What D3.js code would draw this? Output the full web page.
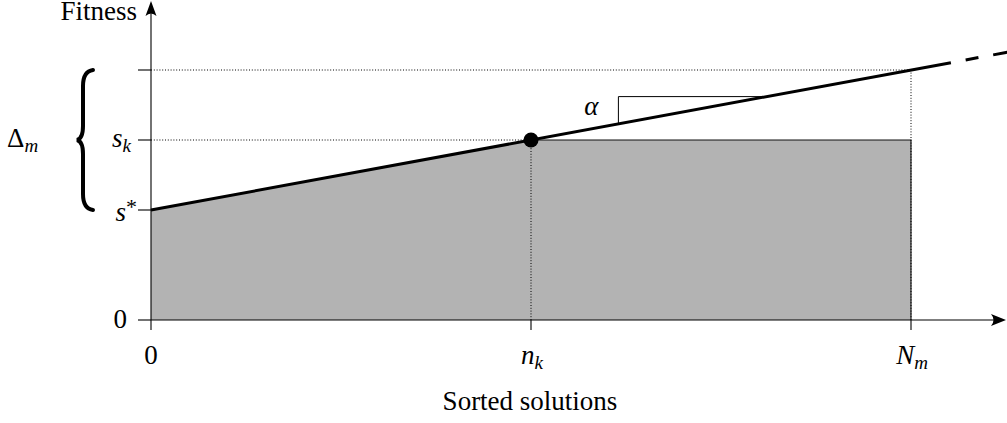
<!DOCTYPE html>
<html>
<head>
<meta charset="utf-8">
<script src="https://cdn.jsdelivr.net/npm/d3@7"></script>
<style>
  html, body { margin: 0; padding: 0; background: #fff; }
  svg { display: block; }
</style>
</head>
<body>
<svg id="chart" width="1007" height="423"></svg>
<script>
// Sorted solutions on the x axis: 0, n_k, N_m
const solutionTicks = [0, 1, 2];
const solutionTickLabels = [["0", ""], ["n", "k"], ["N", "m"]];
// Fitness levels on the y axis: 0, s*, s_k, and the level reached at N_m
const fitnessTicks = [0, 1.1, 1.8, 2.5];
const fitnessTickLabels = ["0", "s*", "s_k", ""];
// Fitness line s* + slope * x
const sStar = 1.1;
const sK = 1.8;
const slope = 0.7;
const solidLineX = [0, 2.105];
const dashedLineX = [2.105, 2.27];
// Slope marker triangle (x extent)
const slopeMarkX = [1.23, 1.62];

const FONT = '"Liberation Serif"';
const FS = 27, SUB = 19;
const svg = d3.select("#chart");
const label = () => svg.append("text").style("font-family", FONT).attr("font-size", FS).attr("fill", "#000");
const x = d3.scaleLinear().domain([0, 2]).range([151, 911]);
const y = d3.scaleLinear().domain([0, 2.5]).range([320, 70]);
const fit = v => sStar + slope * v;
const nk = solutionTicks[1], Nm = solutionTicks[2];
const sTop = fitnessTicks[3];
const line = d3.line().x(d => x(d[0])).y(d => y(d[1]));

// Shaded area: under the line up to n_k, then the rectangle up to N_m
const area = [[0, 0], [0, sStar], [nk, sK], [Nm, sK], [Nm, 0]];
svg.append("path").attr("d", line(area) + "Z").attr("fill", "#b3b3b3");
svg.append("path").attr("d", line([[nk, sK], [Nm, sK], [Nm, 0]]))
  .attr("fill", "none").attr("stroke", "#111").attr("stroke-width", 1.1);

// Dotted guides
const dotted = [
  [[0, sK], [nk, sK]],
  [[0, sTop], [Nm, sTop]],
  [[nk, 0], [nk, sK]],
  [[Nm, 0], [Nm, sTop]]
];
svg.selectAll(".guide").data(dotted).join("line")
  .attr("class", "guide")
  .attr("x1", d => x(d[0][0])).attr("y1", d => y(d[0][1]))
  .attr("x2", d => x(d[1][0])).attr("y2", d => y(d[1][1]))
  .attr("stroke", "#000").attr("stroke-width", 1)
  .attr("stroke-dasharray", "1,1.8");

// Axes
svg.append("line").attr("x1", x(0)).attr("y1", y(0)).attr("x2", 1000).attr("y2", y(0))
  .attr("stroke", "#000").attr("stroke-width", 1.1);
svg.append("line").attr("x1", x(0)).attr("y1", y(0)).attr("x2", x(0)).attr("y2", 8)
  .attr("stroke", "#000").attr("stroke-width", 1.1);
// Arrow heads
const ax = x(0), ay = y(0);
svg.append("path")
  .attr("d", `M${ax},1 L${ax + 5.5},16 Q${ax},11 ${ax - 5.5},16 Z`).attr("fill", "#000");
svg.append("path")
  .attr("d", `M1006,${ay} L991,${ay - 6} Q996,${ay} 991,${ay + 6} Z`).attr("fill", "#000");

// Ticks
svg.selectAll(".ytick").data(fitnessTicks).join("line")
  .attr("class", "ytick")
  .attr("x1", x(0) - 13).attr("x2", x(0))
  .attr("y1", d => y(d)).attr("y2", d => y(d))
  .attr("stroke", "#000").attr("stroke-width", 1.1);
svg.selectAll(".xtick").data(solutionTicks).join("line")
  .attr("class", "xtick")
  .attr("x1", d => x(d)).attr("x2", d => x(d))
  .attr("y1", y(0)).attr("y2", y(0) + 10)
  .attr("stroke", "#000").attr("stroke-width", 1.1);

// Fitness line
svg.append("line")
  .attr("x1", x(solidLineX[0])).attr("y1", y(fit(solidLineX[0])))
  .attr("x2", x(solidLineX[1])).attr("y2", y(fit(solidLineX[1])))
  .attr("stroke", "#000").attr("stroke-width", 3);
svg.append("line")
  .attr("x1", x(dashedLineX[0])).attr("y1", y(fit(dashedLineX[0])))
  .attr("x2", x(dashedLineX[1])).attr("y2", y(fit(dashedLineX[1])))
  .attr("stroke", "#000").attr("stroke-width", 3)
  .attr("stroke-dasharray", "0,15,13,15,13");

// Slope marker
const tY = y(fit(slopeMarkX[1]));
svg.append("path")
  .attr("d", `M${x(slopeMarkX[0])},${y(fit(slopeMarkX[0]))} L${x(slopeMarkX[0])},${tY} L${x(slopeMarkX[1])},${tY}`)
  .attr("fill", "none").attr("stroke", "#000").attr("stroke-width", 1);
label().attr("x", x(slopeMarkX[0]) - 27).attr("y", 115)
  .attr("text-anchor", "middle").attr("font-style", "italic").text("α");

// Point at (n_k, s_k)
svg.append("circle").attr("cx", x(nk)).attr("cy", y(sK)).attr("r", 7.5).attr("fill", "#000");

// Y tick labels
fitnessTicks.forEach((v, i) => {
  const lab = fitnessTickLabels[i];
  if (!lab) return;
  const t = label().attr("text-anchor", "end");
  if (lab === "0") {
    t.attr("x", x(0) - 24).attr("y", y(v) + 8).text("0");
  } else if (lab === "s*") {
    t.attr("x", x(0) - 14).attr("y", y(v) + 11);
    t.append("tspan").attr("font-style", "italic").text("s");
    t.append("tspan").attr("font-size", 22).attr("dy", -7).text("*");
  } else {
    t.attr("x", x(0) - 20).attr("y", y(v) + 7);
    t.append("tspan").attr("font-style", "italic").text("s");
    t.append("tspan").attr("font-style", "italic").attr("font-size", SUB).attr("dy", 5).text("k");
  }
});

// X tick labels
solutionTicks.forEach((v, i) => {
  const [main, sub] = solutionTickLabels[i];
  const t = label().attr("x", x(v) + (sub ? 1 : 0)).attr("y", 364).attr("text-anchor", "middle");
  if (!sub) { t.text(main); return; }
  t.append("tspan").attr("font-style", "italic").text(main);
  t.append("tspan").attr("font-style", "italic").attr("font-size", SUB).attr("dy", 5).text(sub);
});

// Axis titles
label().attr("x", 137).attr("y", 19.5).attr("text-anchor", "end").text("Fitness");
label().attr("x", 530).attr("y", 410).attr("text-anchor", "middle").text("Sorted solutions");

// Range brace from s* to the top level
const bTop = y(sTop), bBot = y(sStar), bMid = (bTop + bBot) / 2;
const bx = 93, bIn = 83, bTip = 77;
svg.append("path")
  .attr("d", `M${bx},${bTop} C${bx - 7},${bTop + 1} ${bIn},${bTop + 6} ${bIn},${bTop + 16}
    L${bIn},${bMid - 14} C${bIn},${bMid - 5} ${bIn - 2},${bMid - 1} ${bTip},${bMid}
    C${bIn - 2},${bMid + 1} ${bIn},${bMid + 5} ${bIn},${bMid + 14}
    L${bIn},${bBot - 16} C${bIn},${bBot - 6} ${bx - 7},${bBot - 1} ${bx},${bBot}`)
  .attr("fill", "none").attr("stroke", "#000").attr("stroke-width", 4)
  .attr("stroke-linecap", "round");

const dl = label().attr("x", 7).attr("y", 147);
dl.append("tspan").text("Δ");
dl.append("tspan").attr("font-style", "italic").attr("font-size", SUB).attr("dy", 5).text("m");
</script>
</body>
</html>
